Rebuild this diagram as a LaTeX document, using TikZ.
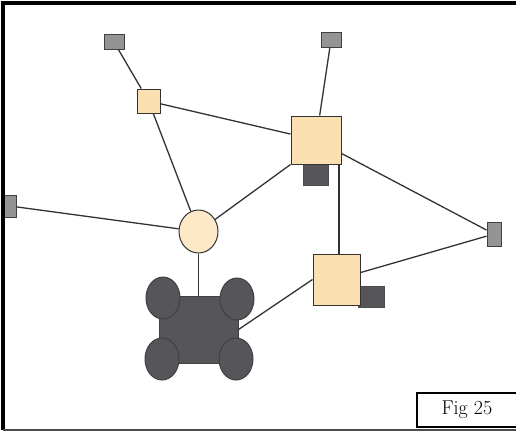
\documentclass[tikz,border=0pt]{standalone}
\usetikzlibrary{shapes.geometric,backgrounds}
\begin{document}
\begin{tikzpicture}[x=1pt,y=-1pt,
  edge/.style={draw=black!80,line width=1.3pt},
  graybox/.style={draw=black!75,line width=0.9pt,fill=black!42,inner sep=0pt},
  tanbox/.style={draw=black!80,line width=1pt,fill=tanc,inner sep=0pt},
  darkbox/.style={draw=black!70,line width=0.8pt,fill=darkc,inner sep=0pt},
  wheel/.style={ellipse,draw=black!75,line width=1pt,fill=darkc,minimum width=34pt,minimum height=42pt,inner sep=0pt}]
\definecolor{tanc}{HTML}{FADFB0}
\definecolor{circc}{HTML}{FDE8C8}
\definecolor{darkc}{HTML}{56565A}
\useasboundingbox (0,0) rectangle (516,432);
% nodes
\node[graybox,minimum width=20pt,minimum height=15pt] (g1) at (114,42) {};
\node[graybox,minimum width=20pt,minimum height=15pt] (g2) at (331,40) {};
\node[graybox,minimum width=12pt,minimum height=22pt] (g3) at (10,206) {};
\node[graybox,minimum width=14pt,minimum height=24pt] (g4) at (494,234) {};
\node[tanbox,minimum width=23pt,minimum height=24pt] (t1) at (148.5,101) {};
\node[darkbox,minimum width=25pt,minimum height=21pt] (d1) at (315.5,174.5) {};
\node[tanbox,minimum width=50pt,minimum height=48pt] (L) at (316,140) {};
\node[darkbox,minimum width=26pt,minimum height=21pt] (d2) at (371,296.5) {};
\node[tanbox,minimum width=47pt,minimum height=51pt] (T2) at (336.5,279.5) {};
\node[ellipse,draw=black!80,line width=1pt,fill=circc,minimum width=39pt,minimum height=43pt,inner sep=0pt] (c) at (198.5,231.5) {};
\node[draw=black!75,line width=1pt,fill=darkc,minimum width=79pt,minimum height=67pt,inner sep=0pt] (body) at (198.5,329.5) {};
\node[wheel] (w1) at (163,298) {};
\node[wheel] (w2) at (237,299) {};
\node[wheel] (w3) at (162,359) {};
\node[wheel] (w4) at (236,359) {};
% edges behind nodes
\begin{scope}[on background layer]
\fill[white] (0,0) rectangle (516,432);
\draw[edge] (g1) -- (t1);
\draw[edge] (g2) -- (L);
\draw[edge] (t1) -- (L);
\draw[edge] (t1) -- (c);
\draw[edge] (g3) -- (c);
\draw[edge] (c) -- (L.south west);
\draw[edge] (L) -- (g4);
\draw[edge] ([xshift=23pt]L.south) -- ([xshift=2.5pt]T2.north);
\draw[edge] (g4) -- (T2);
\draw[edge] (T2.west) -- (body.east);
\draw[edge] (c) -- (body);
\end{scope}
% frame
\draw[line width=4pt] (516,2.5) -- (3,2.5) -- (3,430);
\draw[line width=1.5pt,black!70] (3,430) -- (516,430);
% label
\node[draw,line width=2pt,fill=white,minimum width=100pt,minimum height=34pt,font=\fontsize{20}{20}\selectfont] (fig) at (467,410) {Fig 25};
\end{tikzpicture}
\end{document}
